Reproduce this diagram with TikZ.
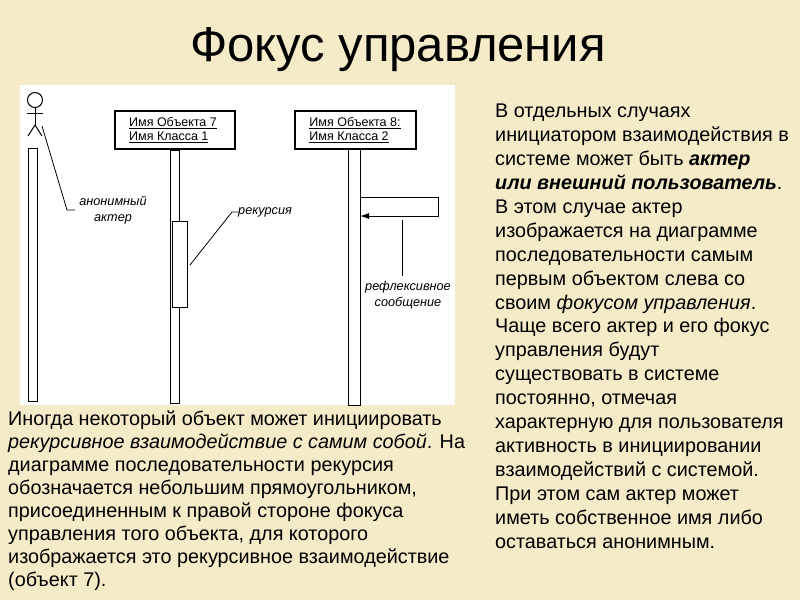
\documentclass[tikz,border=0pt]{standalone}
\usepackage{fontspec}
\setmainfont{Liberation Sans}
\usetikzlibrary{arrows.meta}
\definecolor{bg}{HTML}{F5EBC8}
\tikzset{
  txt/.style={anchor=north west,inner sep=0pt,align=left,font=\fontsize{19.8}{23}\selectfont},
  txtr/.style={txt,font=\fontsize{19.8}{23.9}\selectfont},
  lbl/.style={inner sep=0pt,align=center,font=\fontsize{12.7}{15.5}\selectfont\itshape},
  obj/.style={draw,line width=1.1pt,fill=white},
  life/.style={draw,line width=1pt,fill=white},
  ln/.style={line width=1pt}
}
\begin{document}
\begin{tikzpicture}[x=1pt,y=-1pt]
\fill[bg] (0,0) rectangle (800,600);
\useasboundingbox (0,0) rectangle (800,600);
\node[font=\fontsize{49}{55}\selectfont] (title) at (398,50) {Фокус управления};
\fill[white] (20,85) rectangle (455,405);
% actor
\draw[ln] (35,100) circle (7.5);
\coordinate (neck) at (35,107.5);
\coordinate (hip) at (35,125);
\draw[ln] (neck) -- (hip);
\draw[ln] (27,113) -- (43,113);
\draw[ln] (hip) -- (28,136);
\draw[ln] (hip) -- (42,136);
\node[life,minimum width=9,minimum height=253,inner sep=0] (fa) at (33,275) {};
% object 7
\node[obj,minimum width=120,minimum height=38,inner sep=0] (o7) at (175,130) {};
\node[font=\fontsize{12.5}{14}\selectfont,align=left,inner sep=0] (o7t) at (173,130) {\underline{Имя Объекта 7}\\\underline{Имя Класса 1}};
\node[life,minimum width=9,minimum height=253,inner sep=0,anchor=north] (f7) at (o7.south) {};
\node[life,minimum width=15,minimum height=86,inner sep=0] (rec) at (179.5,264) {};
% object 8
\node[obj,minimum width=121,minimum height=38,inner sep=0] (o8) at (355.5,130) {};
\node[font=\fontsize{12.5}{14}\selectfont,align=left,inner sep=0] (o8t) at (355,130) {\underline{Имя Объекта 8:}\\\underline{Имя Класса 2}};
\node[life,minimum width=12,minimum height=256,inner sep=0] (f8) at (354,277) {};
\coordinate (m1) at (360,197);
\coordinate (m2) at (438,197);
\coordinate (m3) at (438,216);
\coordinate (m4) at (360,216);
\draw[ln,-{Latex[length=9pt,width=6pt]}] (m1) -- (m2) -- (m3) -- (m4);
% labels
\node[lbl] (la) at (113,210) {анонимный\\актер};
\coordinate (pa1) at (42,126);
\coordinate (pa2) at (67,210);
\coordinate (pa3) at (75,210);
\draw[line width=0.8pt] (pa1) -- (pa2) -- (pa3);
\node[lbl,anchor=west] (lr) at (238,212) {рекурсия};
\coordinate (pr1) at (190,265);
\coordinate (pr2) at (232,212);
\draw[line width=0.8pt] (pr1) -- (pr2) -- (lr.west);
\node[lbl] (lm) at (408,295) {рефлексивное\\сообщение};
\coordinate (pm) at (402,220);
\draw[line width=0.8pt] (pm) -- (402,276);
% texts
\node[txtr] (right) at (495,104) {В отдельных случаях\\
инициатором взаимодействия в\\
системе может быть \textbf{\textit{актер}}\\
\textbf{\textit{или внешний пользователь}}.\\
В этом случае актер\\
изображается на диаграмме\\
последовательности самым\\
первым объектом слева со\\
своим \textit{фокусом управления}.\\
Чаще всего актер и его фокус\\
управления будут\\
существовать в системе\\
постоянно, отмечая\\
характерную для пользователя\\
активность в инициировании\\
взаимодействий с системой.\\
При этом сам актер может\\
иметь собственное имя либо\\
оставаться анонимным.};
\node[txt] (left) at (8,411) {Иногда некоторый объект может инициировать\\
\textit{рекурсивное взаимодействие с самим собой}. На\\
диаграмме последовательности рекурсия\\
обозначается небольшим прямоугольником,\\
присоединенным к правой стороне фокуса\\
управления того объекта, для которого\\
изображается это рекурсивное взаимодействие\\
(объект 7).};
\end{tikzpicture}
\end{document}
